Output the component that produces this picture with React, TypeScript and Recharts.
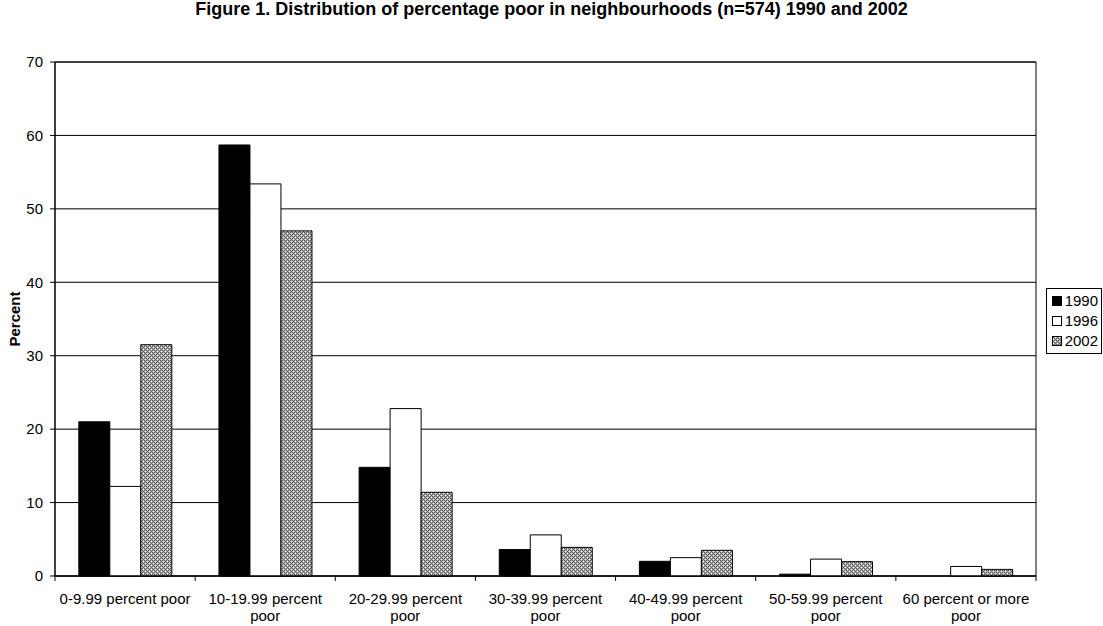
import React from 'react';
import { BarChart, Bar, XAxis, YAxis, CartesianGrid, ReferenceArea, Legend } from 'recharts';

const categories = [
  '0-9.99 percent poor',
  '10-19.99 percent poor',
  '20-29.99 percent poor',
  '30-39.99 percent poor',
  '40-49.99 percent poor',
  '50-59.99 percent poor',
  '60 percent or more poor',
];
const values1990 = [21.0, 58.7, 14.8, 3.6, 2.0, 0.25, 0];
const values1996 = [12.2, 53.4, 22.8, 5.6, 2.5, 2.3, 1.3];
const values2002 = [31.5, 47.0, 11.4, 3.9, 3.5, 1.95, 0.9];
const yTicks = [0, 10, 20, 30, 40, 50, 60, 70];
const seriesNames = ['1990', '1996', '2002'];
const title = 'Figure 1. Distribution of percentage poor in neighbourhoods (n=574) 1990 and 2002';
const yLabel = 'Percent';

const data = categories.map((c, i) => ({
  name: c,
  s1990: values1990[i],
  s1996: values1996[i],
  s2002: values2002[i],
}));

const FONT = '"Liberation Sans", Arial, sans-serif';
const fills = ['#000000', '#ffffff', 'url(#pat2002)'];

const XTick = (props: any) => {
  const { x, y, payload, index } = props;
  const label: string = payload.value;
  const half = payload.offset || 70;
  let lines: string[] = [label];
  if (label.length > 19) {
    const idx = label.lastIndexOf(' ');
    lines = [label.slice(0, idx), label.slice(idx + 1)];
  }
  return (
    <g>
      <line x1={x - half} x2={x - half} y1={y} y2={y + 5} stroke="#000" />
      {index === categories.length - 1 && (
        <line x1={x + half} x2={x + half} y1={y} y2={y + 5} stroke="#000" />
      )}
      {lines.map((l, i) => (
        <text key={i} x={x} y={y + 28 + i * 17} textAnchor="middle" fontSize={15} fontFamily={FONT} fill="#000">
          {l}
        </text>
      ))}
    </g>
  );
};

const LegendContent = () => (
  <div
    style={{
      border: '1px solid #000',
      background: '#fff',
      padding: '2px 3px 2px 5px',
      fontFamily: FONT,
      fontSize: 15,
      lineHeight: '20px',
      width: 46,
    }}
  >
    {seriesNames.map((n, i) => (
      <div key={n} style={{ display: 'flex', alignItems: 'center' }}>
        <svg width={10} height={10} style={{ marginRight: 3 }}>
          <rect x={0.5} y={0.5} width={9} height={9} fill={fills[i]} stroke="#000" />
        </svg>
        <span>{n}</span>
      </div>
    ))}
  </div>
);

export default function App() {
  return (
    <div style={{ position: 'absolute', left: 0, top: 0, width: 1103, height: 626, background: '#fff' }}>
      <div
        style={{
          position: 'absolute',
          left: 0,
          top: 0,
          width: 1103,
          textAlign: 'center',
          fontFamily: FONT,
          fontWeight: 'bold',
          fontSize: 18,
          lineHeight: '18px',
          color: '#000',
        }}
      >
        {title}
      </div>
      <BarChart
        width={1103}
        height={626}
        data={data}
        margin={{ top: 62, right: 67, bottom: 0, left: 0 }}
        barCategoryGap="17%"
        barGap={0}
      >
        <defs>
          <pattern id="pat2002" width={4} height={4} patternUnits="userSpaceOnUse">
            <rect x={0} y={0} width={4} height={4} fill="#b4b4b4" />
            <rect x={0} y={0} width={1} height={1} fill="#5a5a5a" />
            <rect x={2} y={0} width={1} height={1} fill="#5a5a5a" />
            <rect x={1} y={1} width={1} height={1} fill="#5a5a5a" />
            <rect x={3} y={1} width={1} height={1} fill="#ffffff" />
            <rect x={0} y={2} width={1} height={1} fill="#5a5a5a" />
            <rect x={2} y={2} width={1} height={1} fill="#5a5a5a" />
            <rect x={1} y={3} width={1} height={1} fill="#ffffff" />
            <rect x={3} y={3} width={1} height={1} fill="#5a5a5a" />
          </pattern>
        </defs>
        <CartesianGrid horizontal vertical={false} stroke="#000" strokeDasharray="" />
        <ReferenceArea y1={0} y2={70} fill="none" stroke="#000" strokeWidth={1} fillOpacity={0} />
        <XAxis
          dataKey="name"
          height={50}
          tick={<XTick />}
          tickLine={false}
          tickSize={0}
          tickMargin={0}
          axisLine={{ stroke: '#000' }}
          interval={0}
        />
        <YAxis
          width={55}
          domain={[0, 70]}
          ticks={yTicks}
          tickSize={5}
          tickMargin={7}
          tickLine={{ stroke: '#000' }}
          axisLine={{ stroke: '#000' }}
          tick={{ fontSize: 15, fontFamily: FONT, fill: '#000' }}
          label={{
            content: (p: any) => {
              const vb = p.viewBox || { x: 0, y: 62, height: 514 };
              const cx = vb.x + 14;
              const cy = vb.y + vb.height / 2;
              return (
                <text
                  x={cx}
                  y={cy}
                  transform={`rotate(-90 ${cx} ${cy})`}
                  textAnchor="middle"
                  dominantBaseline="central"
                  fontSize={15}
                  fontWeight="bold"
                  fontFamily={FONT}
                  fill="#000"
                >
                  {yLabel}
                </text>
              );
            },
          }}
        />
        <Legend
          layout="vertical"
          align="center"
          verticalAlign="middle"
          content={<LegendContent />}
          wrapperStyle={{ left: 1046, top: 288, width: 56 }}
        />
        <Bar dataKey="s1990" name="1990" fill={fills[0]} stroke="#000" strokeWidth={1} isAnimationActive={false} />
        <Bar dataKey="s1996" name="1996" fill={fills[1]} stroke="#000" strokeWidth={1} isAnimationActive={false} />
        <Bar dataKey="s2002" name="2002" fill={fills[2]} stroke="#000" strokeWidth={1} isAnimationActive={false} />
      </BarChart>
    </div>
  );
}
